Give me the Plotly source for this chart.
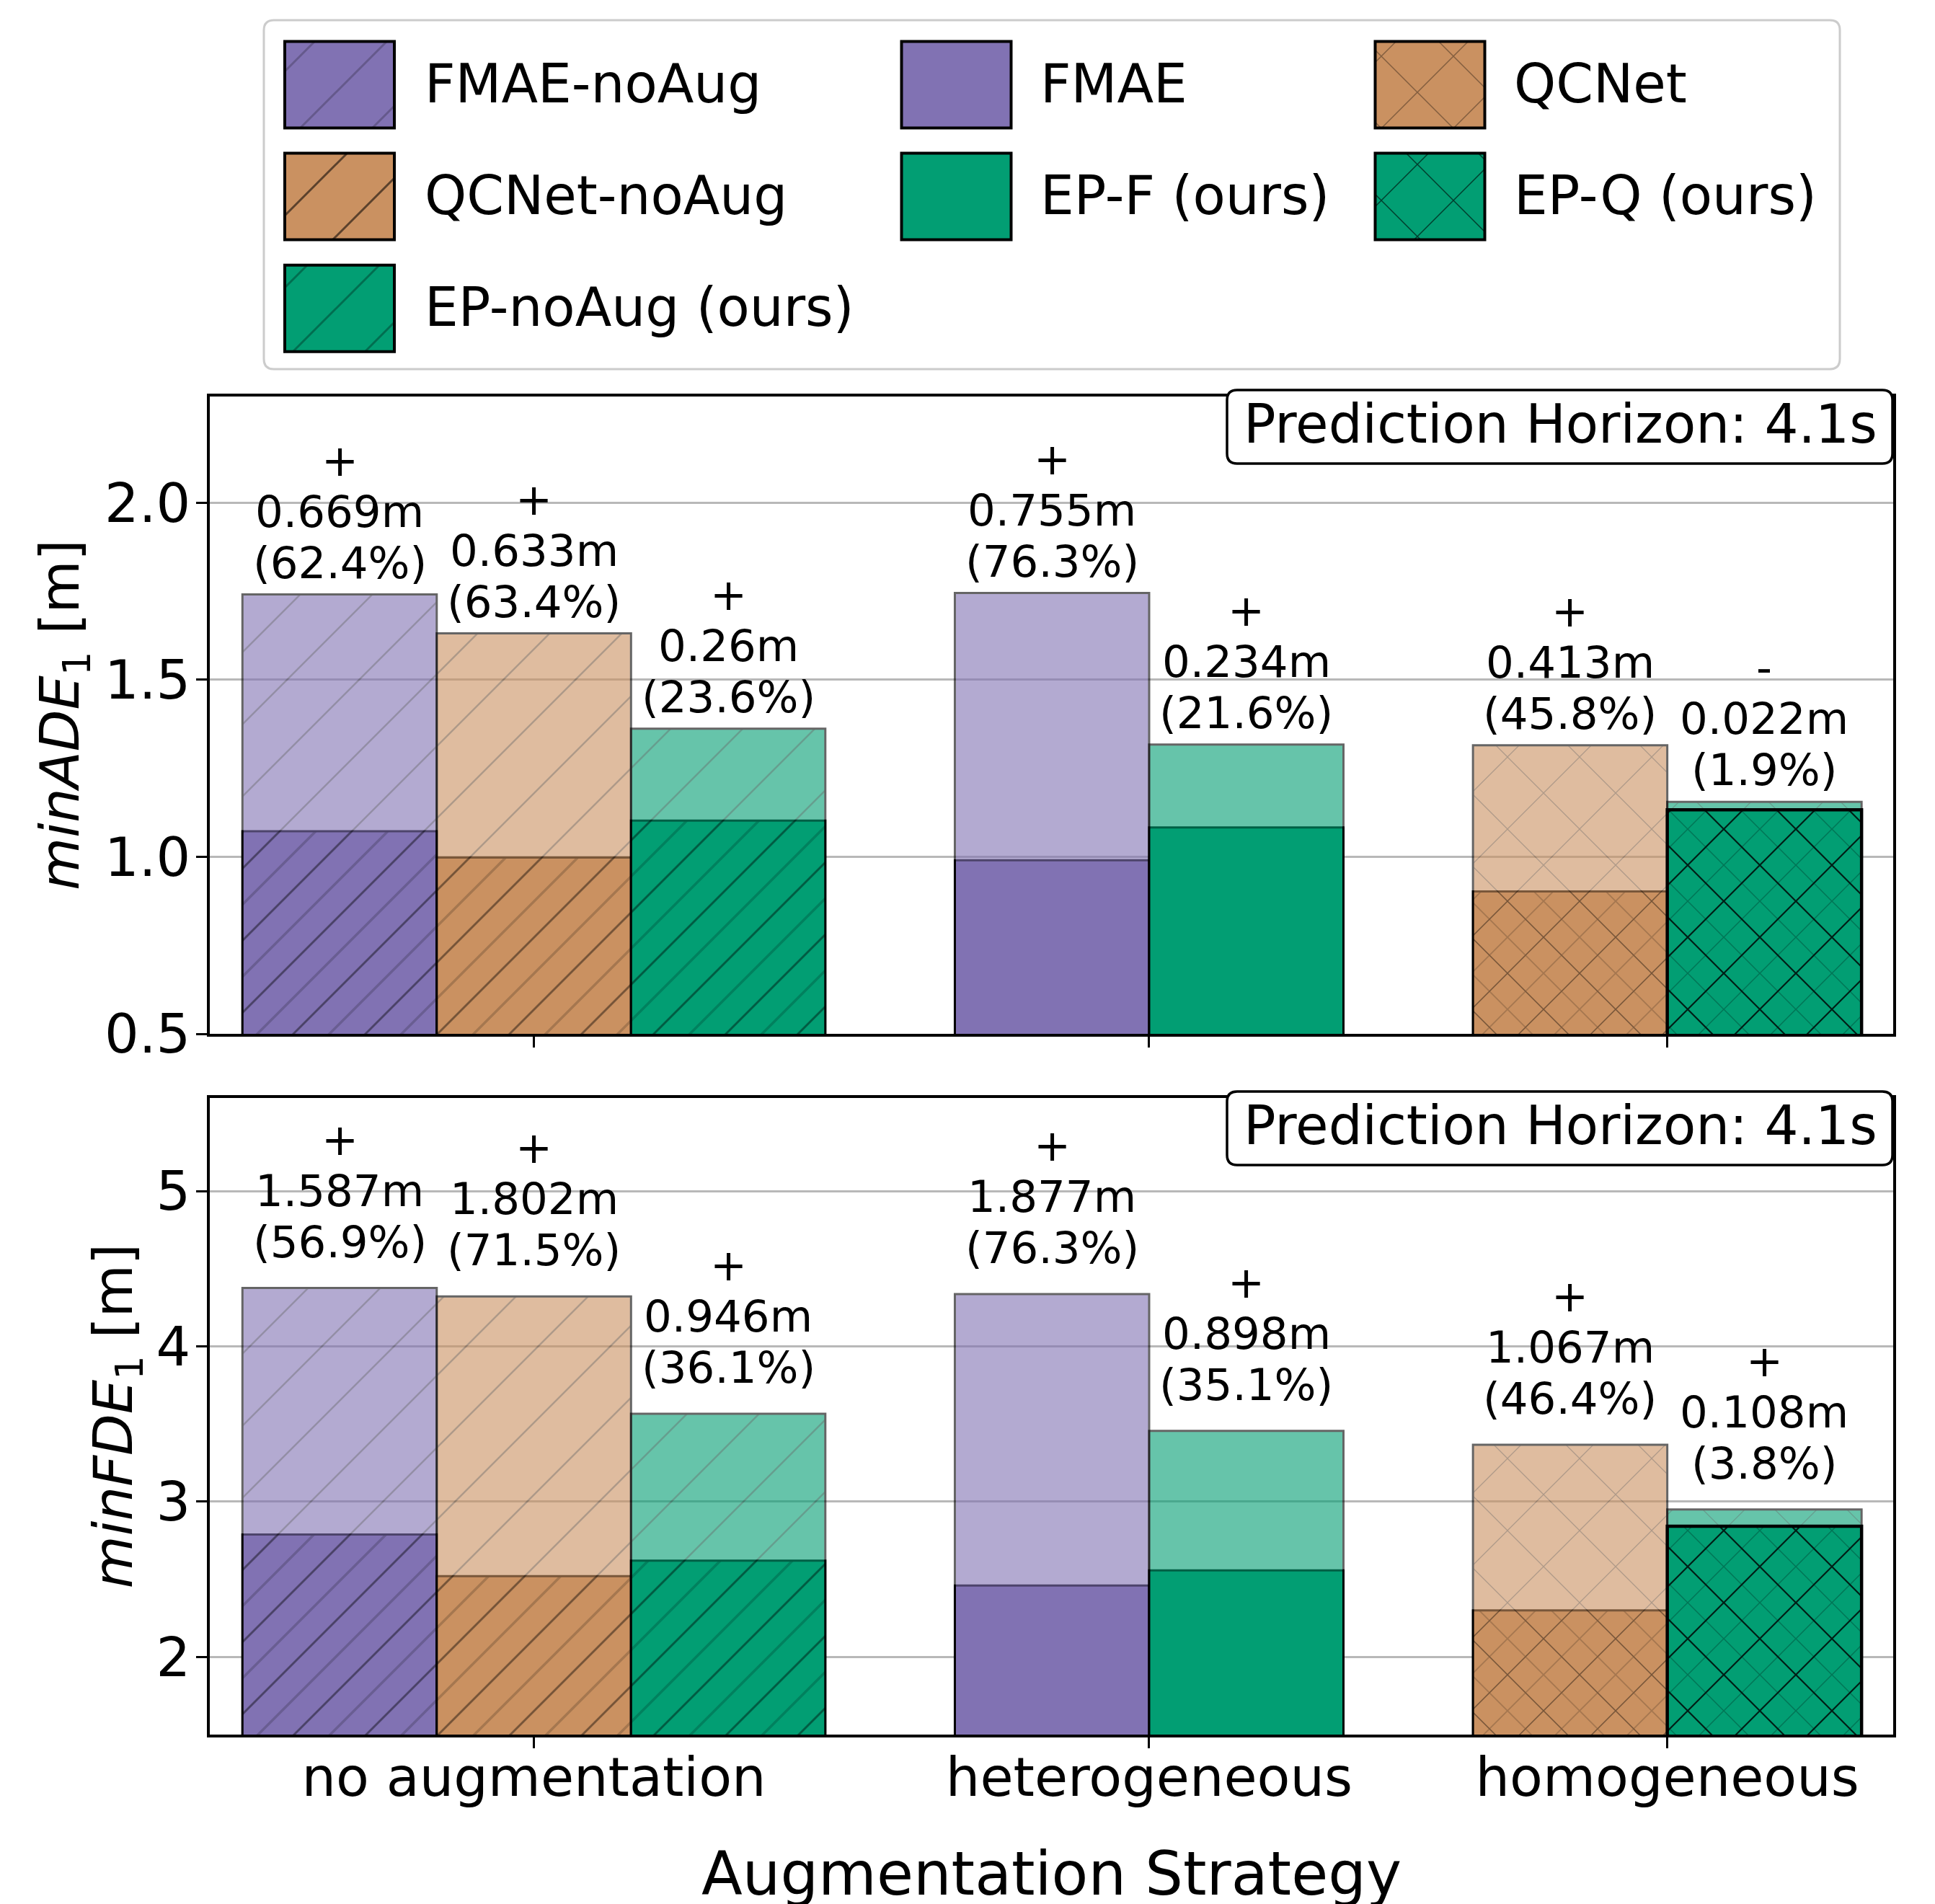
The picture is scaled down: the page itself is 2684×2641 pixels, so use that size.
import plotly.graph_objects as go

W, H = 2684, 2641
FONT = "DejaVu Sans"

# ---------------- data ----------------
categories = ["no augmentation", "heterogeneous", "homogeneous"]
models = ["FMAE-noAug", "QCNet-noAug", "EP-noAug (ours)", "FMAE", "EP-F (ours)", "QCNet", "EP-Q (ours)"]
model_group = [0, 0, 0, 1, 1, 2, 2]
model_family = ["FMAE", "QCNet", "EP", "FMAE", "EP", "QCNet", "EP"]
model_hatch = ["/", "/", "/", "", "", "x", "x"]

# minADE_1: dark bar (base) and light bar (augmented evaluation)
ade_base = [1.072, 0.998, 1.102, 0.990, 1.083, 0.902, 1.133]
ade_aug = [1.741, 1.631, 1.362, 1.745, 1.317, 1.315, 1.155]
ade_delta = [0.669, 0.633, 0.26, 0.755, 0.234, 0.413, 0.022]
ade_pct = [62.4, 63.4, 23.6, 76.3, 21.6, 45.8, 1.9]
ade_sign = ["+", "+", "+", "+", "+", "+", "-"]

# minFDE_1
fde_base = [2.789, 2.520, 2.620, 2.460, 2.558, 2.300, 2.842]
fde_aug = [4.376, 4.322, 3.566, 4.337, 3.456, 3.367, 2.950]
fde_delta = [1.587, 1.802, 0.946, 1.877, 0.898, 1.067, 0.108]
fde_pct = [56.9, 71.5, 36.1, 76.3, 35.1, 46.4, 3.8]
fde_sign = ["+", "+", "+", "+", "+", "+", "+"]

ade_ticks = [0.5, 1.0, 1.5, 2.0]
ade_ticktext = ["0.5", "1.0", "1.5", "2.0"]
fde_ticks = [2, 3, 4, 5]
fde_ticktext = ["2", "3", "4", "5"]

legend_rows = [["FMAE-noAug", "FMAE", "QCNet"],
               ["QCNet-noAug", "EP-F (ours)", "EP-Q (ours)"],
               ["EP-noAug (ours)"]]

horizon_text = "Prediction Horizon: 4.1s"
x_title = "Augmentation Strategy"
ade_title = "<i>minADE</i><sub>1</sub> [m]"
fde_title = "<i>minFDE</i><sub>1</sub> [m]"

# ---------------- styles ----------------
family_color = {"FMAE": "#8172B3", "QCNet": "#CA9161", "EP": "#029E73"}
strong_models = ["EP-Q (ours)"]          # dark bar drawn on top, bold hatch
legend_fgop = {"FMAE-noAug": 0.22, "QCNet-noAug": 0.55, "EP-noAug (ours)": 0.3,
               "QCNet": 0.35, "EP-Q (ours)": 0.6}

# ---------------- layout geometry (pixels) ----------------
AX_L, AX_R = 291, 2626
TOP_T, TOP_B = 550, 1434
BOT_T, BOT_B = 1523, 2406
LEG = (366, 28, 2552, 512)


def fx(x):
    return x / W


def fy(y):
    return 1 - y / H


GAP = 2.0 / 3.0
pos = []
for i, g in enumerate(model_group):
    if i == 0:
        pos.append(0.0)
    else:
        pos.append(pos[-1] + (1.0 if g == model_group[i - 1] else 1.0 + GAP))
group_centers = []
for k in range(len(categories)):
    ps = [p for p, g in zip(pos, model_group) if g == k]
    group_centers.append(sum(ps) / len(ps))
X_RANGE = [-0.668, 7.996]

T = 100.0
S_FULL = T / 2 ** 0.5
S_HALF = S_FULL / 2


def pattern(shape, size, width_px, fgop, bg, fill="replace"):
    if not shape:
        return dict(shape="")
    d = dict(shape=shape, size=size, solidity=width_px / size, fgcolor="black",
             fgopacity=fgop, fillmode=fill)
    if bg is not None:
        d["bgcolor"] = bg
    return d


fig = go.Figure()


def add_bars(xa, ya, base_vals, aug_vals):
    for i, m in enumerate(models):
        c = family_color[model_family[i]]
        h = model_hatch[i]
        light = go.Bar(x=[pos[i]], y=[aug_vals[i]], width=[1.0], xaxis=xa, yaxis=ya,
                       marker=dict(color=c, opacity=0.6, line=dict(color="black", width=3),
                                   pattern=pattern(h, S_FULL, 2.5, 0.4, c)),
                       showlegend=False, hoverinfo="skip")
        if m in strong_models:
            dark = go.Bar(x=[pos[i]], y=[base_vals[i]], width=[1.0], xaxis=xa, yaxis=ya,
                          marker=dict(color=c, line=dict(color="black", width=4.5),
                                      pattern=pattern(h, S_HALF, 3.0, 0.25, c)),
                          showlegend=False, hoverinfo="skip")
            bold = go.Bar(x=[pos[i]], y=[base_vals[i]], width=[1.0], xaxis=xa, yaxis=ya,
                          marker=dict(color="rgba(0,0,0,0)", line=dict(width=0),
                                      pattern=pattern(h, S_FULL, 4.5, 0.75, None, "overlay")),
                          showlegend=False, hoverinfo="skip")
            seq = [light, dark, bold]
        else:
            dark = go.Bar(x=[pos[i]], y=[base_vals[i]], width=[1.0], xaxis=xa, yaxis=ya,
                          marker=dict(color=c, line=dict(color="black", width=3),
                                      pattern=pattern(h, S_HALF, 3.5, 0.45, c)),
                          showlegend=False, hoverinfo="skip")
            seq = [dark, light]
        for t in seq:
            fig.add_trace(t)


add_bars("x", "y", ade_base, ade_aug)
add_bars("x2", "y2", fde_base, fde_aug)

LINE = 71


def add_labels(xref, yref, vals, deltas, pcts, signs, shift):
    for i in range(len(models)):
        lines = [f"({pcts[i]:.1f}%)", f"{deltas[i]:g}m", signs[i]]
        for k, t in enumerate(lines):
            fig.add_annotation(x=pos[i], y=vals[i], xref=xref, yref=yref, text=t,
                               showarrow=False, xanchor="center", yanchor="bottom",
                               yshift=shift + k * LINE, borderpad=0, borderwidth=0,
                               font=dict(size=61, family=FONT, color="black"))


add_labels("x", "y", ade_aug, ade_delta, ade_pct, ade_sign, 9)
add_labels("x2", "y2", fde_aug, fde_delta, fde_pct, fde_sign, 29)


def rounded_path(x0, y0, x1, y1, r):
    def P(x, y):
        return f"{fx(x):.6f},{fy(y):.6f}"
    return (f"M{P(x0 + r, y0)} L{P(x1 - r, y0)} Q{P(x1, y0)} {P(x1, y0 + r)} "
            f"L{P(x1, y1 - r)} Q{P(x1, y1)} {P(x1 - r, y1)} L{P(x0 + r, y1)} "
            f"Q{P(x0, y1)} {P(x0, y1 - r)} L{P(x0, y0 + r)} Q{P(x0, y0)} {P(x0 + r, y0)} Z")


# Prediction horizon boxes
for top in (TOP_T, BOT_T):
    fig.add_shape(type="path", xref="paper", yref="paper",
                  path=rounded_path(1702, top - 9, AX_R - 1, top + 93, 14),
                  line=dict(color="black", width=3.5), fillcolor="white", layer="above")
    fig.add_annotation(x=fx(2164), y=fy(top + 63.5 - 25.6), xref="paper", yref="paper",
                       text=horizon_text, showarrow=False, xanchor="center", yanchor="middle",
                       borderpad=0, borderwidth=0, font=dict(size=74, family=FONT, color="black"))

# Legend frame
fig.add_shape(type="path", xref="paper", yref="paper",
              path=rounded_path(*LEG, 14), line=dict(color="#cccccc", width=3),
              fillcolor="white", layer="below")

col_cx = [471, 1326.5, 1983.5]
col_tx = [589, 1443, 2100]
row_top = [57.6, 212.6, 367.7]
SW_W, SW_H = 152, 120
for r, row in enumerate(legend_rows):
    for c, name in enumerate(row):
        i = models.index(name)
        h = model_hatch[i]
        col = family_color[model_family[i]]
        fig.add_trace(go.Bar(x=[col_cx[c]], y=[SW_H], base=[row_top[r]], width=[SW_W],
                             xaxis="x3", yaxis="y3",
                             marker=dict(color=col, line=dict(color="black", width=4),
                                         pattern=pattern(h, S_FULL, 3.0, legend_fgop.get(name, 0), col)),
                             showlegend=False, hoverinfo="skip"))
        fig.add_annotation(x=fx(col_tx[c]), y=fy(row_top[r] + SW_H / 2 - 2), xref="paper", yref="paper",
                           text=name, showarrow=False, xanchor="left", yanchor="middle",
                           borderpad=0, borderwidth=0, font=dict(size=74, family=FONT, color="black"))

# Axis titles
fig.add_annotation(x=fx((AX_L + AX_R) / 2), y=fy(2628 - 28.7), xref="paper", yref="paper",
                   text=x_title, showarrow=False, xanchor="center", yanchor="middle",
                   borderpad=0, borderwidth=0, font=dict(size=83, family=FONT, color="black"))
fig.add_annotation(x=fx(88), y=fy((TOP_T + TOP_B) / 2), xref="paper", yref="paper",
                   text=ade_title, textangle=-90, showarrow=False, xanchor="center", yanchor="middle",
                   borderpad=0, borderwidth=0, font=dict(size=75, family=FONT, color="black"))
fig.add_annotation(x=fx(161), y=fy((BOT_T + BOT_B) / 2), xref="paper", yref="paper",
                   text=fde_title, textangle=-90, showarrow=False, xanchor="center", yanchor="middle",
                   borderpad=0, borderwidth=0, font=dict(size=75, family=FONT, color="black"))

tickfont = dict(size=75, family=FONT, color="black")


def xaxis(anchor, labels):
    return dict(domain=[fx(AX_L), fx(AX_R)], anchor=anchor, range=X_RANGE, tickmode="array",
                tickvals=group_centers, ticktext=categories, showticklabels=labels,
                ticks="outside", ticklen=15, tickwidth=3, tickcolor="black",
                ticklabelstandoff=-24,
                showline=True, linecolor="black", linewidth=3.5, mirror=True,
                showgrid=False, zeroline=False, automargin=False, tickfont=tickfont,
                fixedrange=True)


def yaxis(anchor, top, bottom, rng, vals, txt):
    return dict(domain=[fy(bottom), fy(top)], anchor=anchor, range=rng, tickmode="array",
                tickvals=vals, ticktext=txt, ticks="outside", ticklen=15, tickwidth=3,
                ticklabelstandoff=-7,
                tickcolor="black", showline=True, linecolor="black", linewidth=3.5, mirror=True,
                showgrid=True, gridcolor="#b8b8b8", gridwidth=3, zeroline=False,
                automargin=False, tickfont=tickfont, fixedrange=True)


fig.update_layout(
    template="none",
    width=W, height=H, margin=dict(l=0, r=0, t=0, b=0),
    paper_bgcolor="white", plot_bgcolor="rgba(0,0,0,0)",
    barmode="overlay", showlegend=False,
    font=dict(family=FONT, color="black"),
    xaxis=xaxis("y", False),
    yaxis=yaxis("x", TOP_T, TOP_B, [0.5, 2.3], ade_ticks, ade_ticktext),
    xaxis2=xaxis("y2", True),
    yaxis2=yaxis("x2", BOT_T, BOT_B, [1.5, 5.6], fde_ticks, fde_ticktext),
    xaxis3=dict(domain=[fx(LEG[0]), fx(LEG[2])], anchor="y3", range=[LEG[0], LEG[2]],
                visible=False, fixedrange=True, automargin=False),
    yaxis3=dict(domain=[fy(LEG[3]), fy(LEG[1])], anchor="x3", range=[LEG[3], LEG[1]],
                visible=False, fixedrange=True, automargin=False),
)

fig.write_html("out.html", config={"displayModeBar": False},
               post_script="document.body.style.margin='0px';document.body.style.overflow='hidden';")
